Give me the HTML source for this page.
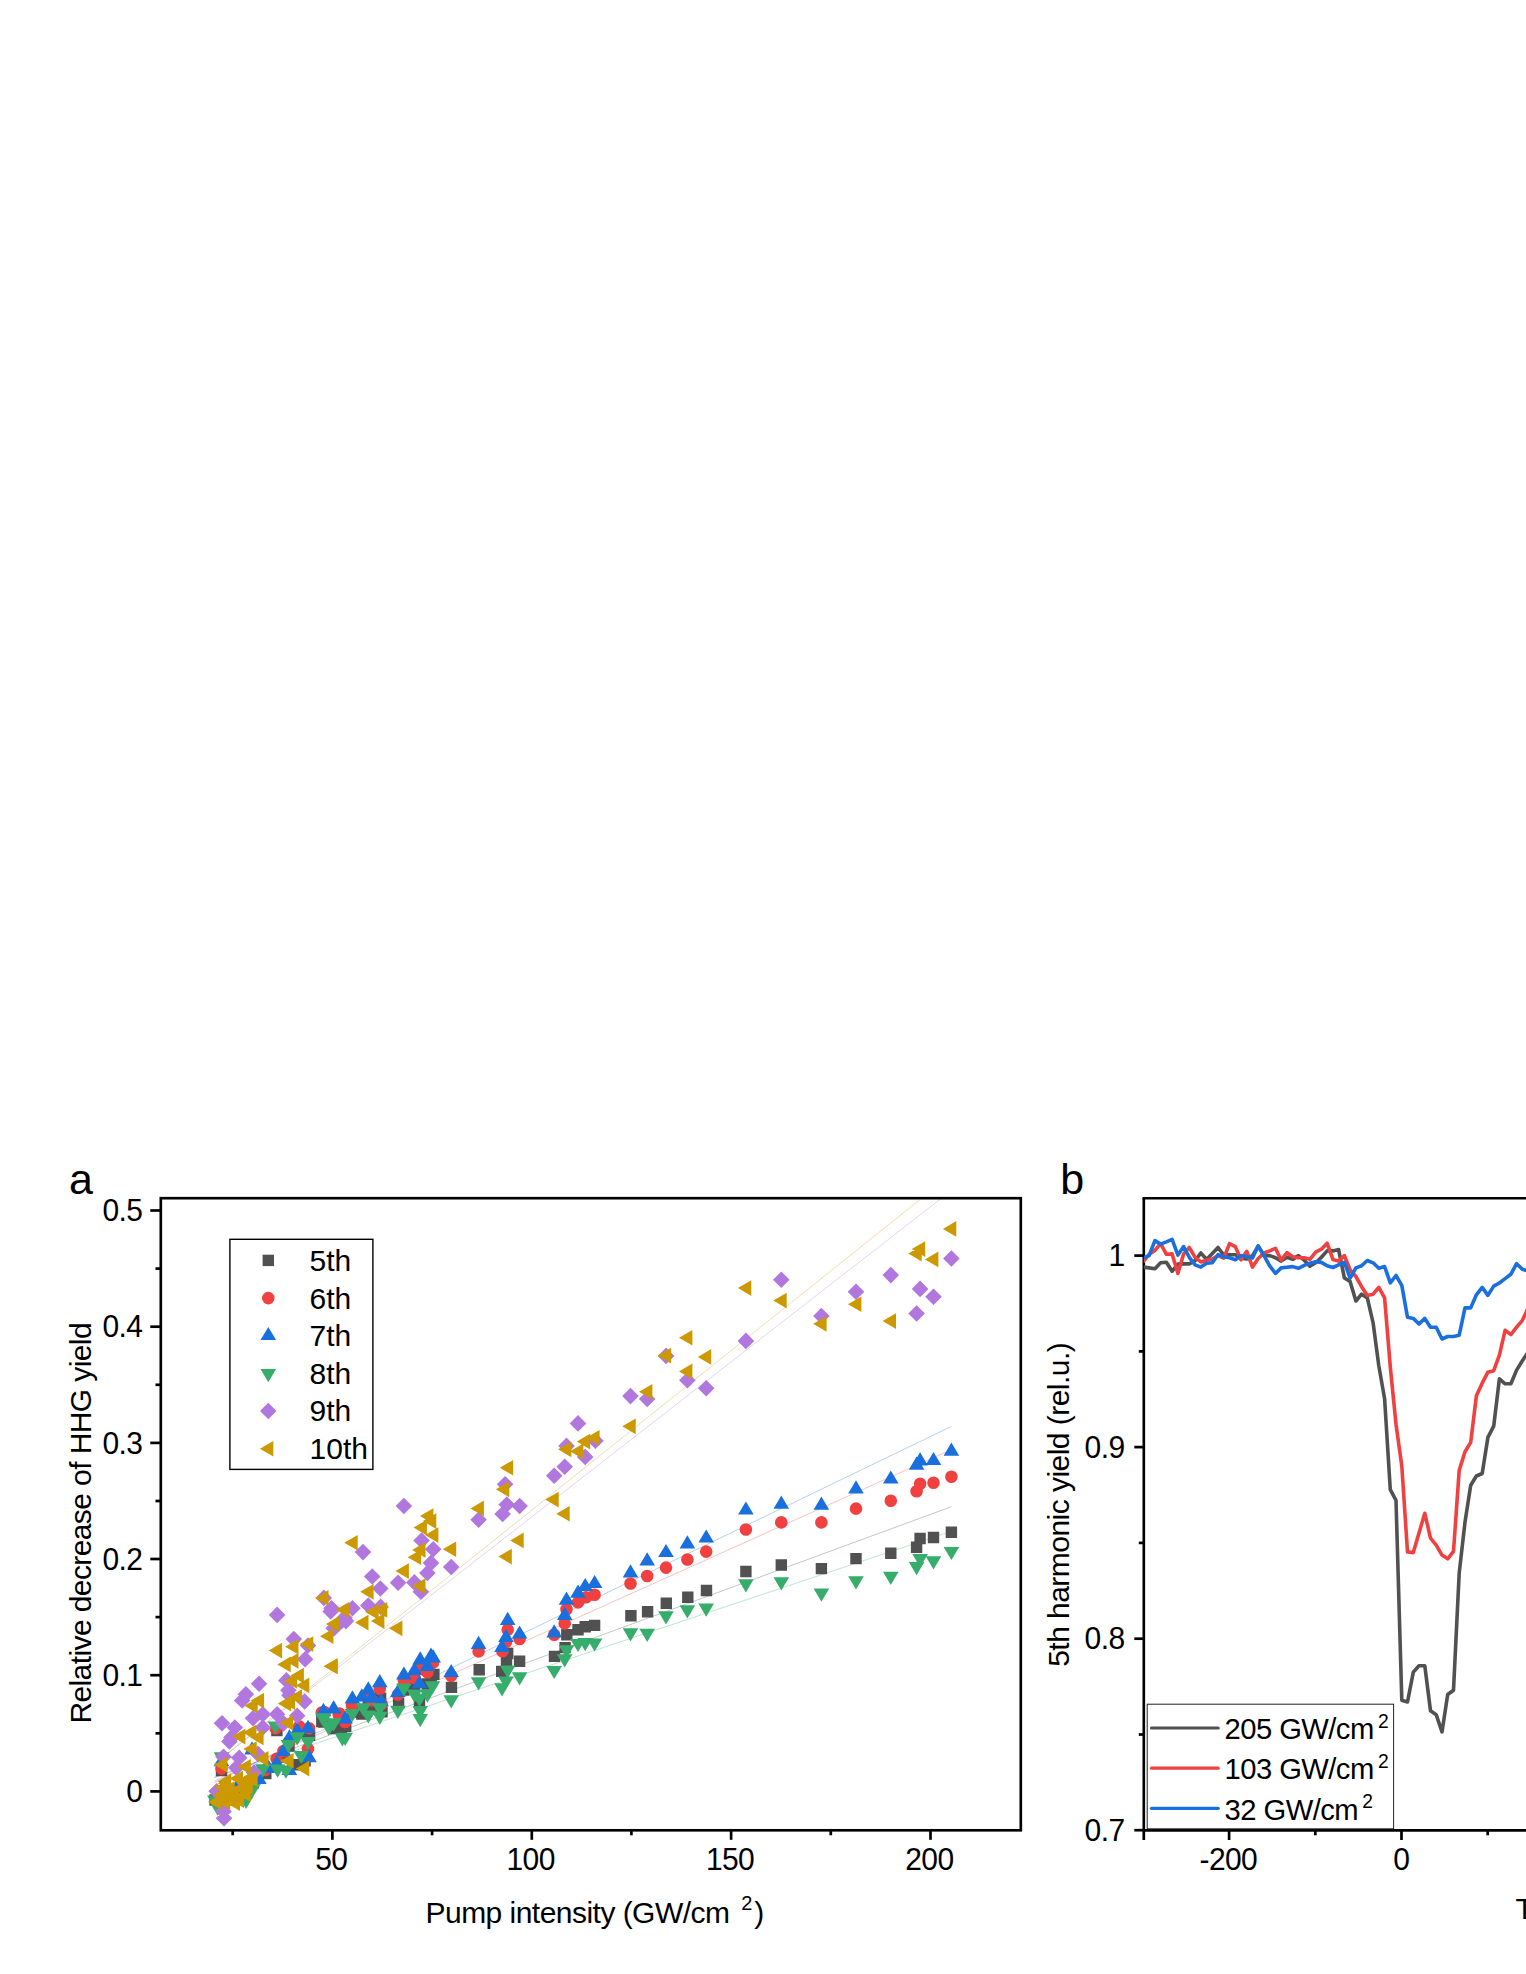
<!DOCTYPE html>
<html lang="en">
<head>
<meta charset="utf-8">
<title>Figure: HHG yield vs pump intensity</title>
<style>
html,body{margin:0;padding:0;background:#fff;}
body{width:1526px;height:1974px;overflow:hidden;}
svg{display:block;}
text{font-family:"Liberation Sans",Arial,Helvetica,sans-serif;fill:#000;}
.t30{font-size:30px;}
.t30x{font-size:30px;}
.t30y{font-size:30px;}
.t28{font-size:29.2px;}
.t43{font-size:43px;}
.t18{font-size:19.3px;}
.t20{font-size:20px;}
</style>
</head>
<body>
<svg width="1526" height="1974" viewBox="0 0 1526 1974">
<rect x="0" y="0" width="1526" height="1974" fill="#fff"/>
<g id="panel-a">
<clipPath id="ca"><rect x="160.8" y="1198.2" width="860.0" height="632.0999999999999"/></clipPath>
<g clip-path="url(#ca)"><line x1="214.5" y1="1777.3" x2="951.4" y2="1506.7" stroke="#515151" stroke-width="0.65" stroke-opacity="0.5"/><line x1="214.5" y1="1780.9" x2="951.4" y2="1449.6" stroke="#F14040" stroke-width="0.65" stroke-opacity="0.5"/><line x1="214.5" y1="1782.4" x2="951.4" y2="1426.4" stroke="#1A6FDF" stroke-width="0.65" stroke-opacity="0.5"/><line x1="214.5" y1="1777.4" x2="951.4" y2="1531.3" stroke="#37AD6B" stroke-width="0.65" stroke-opacity="0.5"/><line x1="214.5" y1="1763.7" x2="951.4" y2="1190.4" stroke="#B177DE" stroke-width="0.65" stroke-opacity="0.5"/><line x1="214.5" y1="1763.9" x2="951.4" y2="1174.4" stroke="#CC9900" stroke-width="0.65" stroke-opacity="0.5"/>
<path fill="#515151" d="M740.2 1565.8h11.4v11.4h-11.4zM775.6 1559.3h11.4v11.4h-11.4zM815.7 1562.9h11.4v11.4h-11.4zM850.3 1552.9h11.4v11.4h-11.4zM885.1 1547.6h11.4v11.4h-11.4zM910.9 1541.5h11.4v11.4h-11.4zM914.4 1532.8h11.4v11.4h-11.4zM927.8 1531.8h11.4v11.4h-11.4zM945.7 1526.5h11.4v11.4h-11.4zM700.8 1584.8h11.4v11.4h-11.4zM682.1 1591.6h11.4v11.4h-11.4zM660.6 1597.6h11.4v11.4h-11.4zM641.9 1606.1h11.4v11.4h-11.4zM625.2 1610h11.4v11.4h-11.4zM588.9 1619.7h11.4v11.4h-11.4zM579.5 1621.1h11.4v11.4h-11.4zM572.3 1624h11.4v11.4h-11.4zM561.1 1629.1h11.4v11.4h-11.4zM559.4 1641.9h11.4v11.4h-11.4zM548.8 1650.7h11.4v11.4h-11.4zM513.9 1655.5h11.4v11.4h-11.4zM502 1647.8h11.4v11.4h-11.4zM500.8 1656.3h11.4v11.4h-11.4zM496 1665.7h11.4v11.4h-11.4zM473.5 1664h11.4v11.4h-11.4zM445.8 1681.7h11.4v11.4h-11.4zM428.2 1668.7h11.4v11.4h-11.4zM425.5 1673.3h11.4v11.4h-11.4zM421.7 1678.3h11.4v11.4h-11.4zM413.8 1696.9h11.4v11.4h-11.4zM408.7 1682.3h11.4v11.4h-11.4zM398.2 1684.3h11.4v11.4h-11.4zM392.9 1697.6h11.4v11.4h-11.4zM374.9 1692.5h11.4v11.4h-11.4zM356.1 1708.4h11.4v11.4h-11.4zM376.3 1706.2h11.4v11.4h-11.4zM362.6 1698.3h11.4v11.4h-11.4zM366.2 1703.3h11.4v11.4h-11.4zM346.7 1706.3h11.4v11.4h-11.4zM340 1720.6h11.4v11.4h-11.4zM328.7 1722.8h11.4v11.4h-11.4zM317.9 1716.3h11.4v11.4h-11.4zM271.2 1724.9h11.4v11.4h-11.4zM303.8 1729.5h11.4v11.4h-11.4zM299.4 1755.1h11.4v11.4h-11.4zM260.1 1767.9h11.4v11.4h-11.4zM288.6 1759h11.4v11.4h-11.4zM316.1 1715.8h11.4v11.4h-11.4zM335.8 1721.7h11.4v11.4h-11.4zM215.8 1764.9h11.4v11.4h-11.4zM277.8 1751.3h11.4v11.4h-11.4zM283.3 1740.3h11.4v11.4h-11.4zM293.3 1727.3h11.4v11.4h-11.4zM247.3 1777.3h11.4v11.4h-11.4zM240.3 1784.3h11.4v11.4h-11.4zM230.3 1786.3h11.4v11.4h-11.4zM222.3 1792.3h11.4v11.4h-11.4zM209.3 1794.3h11.4v11.4h-11.4z"/>
<path fill="#F14040" d="M739.6 1529.5a6.3 6.3 0 1 0 12.6 0a6.3 6.3 0 1 0 -12.6 0zM775 1522.4a6.3 6.3 0 1 0 12.6 0a6.3 6.3 0 1 0 -12.6 0zM815.1 1522.4a6.3 6.3 0 1 0 12.6 0a6.3 6.3 0 1 0 -12.6 0zM849.7 1508.6a6.3 6.3 0 1 0 12.6 0a6.3 6.3 0 1 0 -12.6 0zM884.5 1500.8a6.3 6.3 0 1 0 12.6 0a6.3 6.3 0 1 0 -12.6 0zM910.3 1491.3a6.3 6.3 0 1 0 12.6 0a6.3 6.3 0 1 0 -12.6 0zM913.8 1483.7a6.3 6.3 0 1 0 12.6 0a6.3 6.3 0 1 0 -12.6 0zM927.2 1482.7a6.3 6.3 0 1 0 12.6 0a6.3 6.3 0 1 0 -12.6 0zM945.1 1476.8a6.3 6.3 0 1 0 12.6 0a6.3 6.3 0 1 0 -12.6 0zM699.9 1551.6a6.3 6.3 0 1 0 12.6 0a6.3 6.3 0 1 0 -12.6 0zM681.1 1559.5a6.3 6.3 0 1 0 12.6 0a6.3 6.3 0 1 0 -12.6 0zM659.7 1567.6a6.3 6.3 0 1 0 12.6 0a6.3 6.3 0 1 0 -12.6 0zM640.9 1576a6.3 6.3 0 1 0 12.6 0a6.3 6.3 0 1 0 -12.6 0zM624.2 1583.5a6.3 6.3 0 1 0 12.6 0a6.3 6.3 0 1 0 -12.6 0zM588.3 1594.7a6.3 6.3 0 1 0 12.6 0a6.3 6.3 0 1 0 -12.6 0zM579.7 1597.3a6.3 6.3 0 1 0 12.6 0a6.3 6.3 0 1 0 -12.6 0zM571.7 1602.4a6.3 6.3 0 1 0 12.6 0a6.3 6.3 0 1 0 -12.6 0zM560.2 1609.2a6.3 6.3 0 1 0 12.6 0a6.3 6.3 0 1 0 -12.6 0zM558.4 1623.4a6.3 6.3 0 1 0 12.6 0a6.3 6.3 0 1 0 -12.6 0zM547.9 1634.8a6.3 6.3 0 1 0 12.6 0a6.3 6.3 0 1 0 -12.6 0zM513.3 1639a6.3 6.3 0 1 0 12.6 0a6.3 6.3 0 1 0 -12.6 0zM501.4 1629.7a6.3 6.3 0 1 0 12.6 0a6.3 6.3 0 1 0 -12.6 0zM499.7 1642a6.3 6.3 0 1 0 12.6 0a6.3 6.3 0 1 0 -12.6 0zM496.1 1651.2a6.3 6.3 0 1 0 12.6 0a6.3 6.3 0 1 0 -12.6 0zM472.3 1651.4a6.3 6.3 0 1 0 12.6 0a6.3 6.3 0 1 0 -12.6 0zM444.9 1675.9a6.3 6.3 0 1 0 12.6 0a6.3 6.3 0 1 0 -12.6 0zM426.9 1662.2a6.3 6.3 0 1 0 12.6 0a6.3 6.3 0 1 0 -12.6 0zM424.7 1664a6.3 6.3 0 1 0 12.6 0a6.3 6.3 0 1 0 -12.6 0zM421.1 1672.3a6.3 6.3 0 1 0 12.6 0a6.3 6.3 0 1 0 -12.6 0zM413.9 1668a6.3 6.3 0 1 0 12.6 0a6.3 6.3 0 1 0 -12.6 0zM408.1 1678a6.3 6.3 0 1 0 12.6 0a6.3 6.3 0 1 0 -12.6 0zM397.6 1681a6.3 6.3 0 1 0 12.6 0a6.3 6.3 0 1 0 -12.6 0zM391.6 1694.6a6.3 6.3 0 1 0 12.6 0a6.3 6.3 0 1 0 -12.6 0zM373.5 1688.9a6.3 6.3 0 1 0 12.6 0a6.3 6.3 0 1 0 -12.6 0zM375.2 1704a6.3 6.3 0 1 0 12.6 0a6.3 6.3 0 1 0 -12.6 0zM365.6 1700.4a6.3 6.3 0 1 0 12.6 0a6.3 6.3 0 1 0 -12.6 0zM362 1696a6.3 6.3 0 1 0 12.6 0a6.3 6.3 0 1 0 -12.6 0zM345.7 1705.4a6.3 6.3 0 1 0 12.6 0a6.3 6.3 0 1 0 -12.6 0zM332.4 1714.8a6.3 6.3 0 1 0 12.6 0a6.3 6.3 0 1 0 -12.6 0zM338.9 1722a6.3 6.3 0 1 0 12.6 0a6.3 6.3 0 1 0 -12.6 0zM318 1712a6.3 6.3 0 1 0 12.6 0a6.3 6.3 0 1 0 -12.6 0zM269.3 1728.3a6.3 6.3 0 1 0 12.6 0a6.3 6.3 0 1 0 -12.6 0zM302.7 1728.3a6.3 6.3 0 1 0 12.6 0a6.3 6.3 0 1 0 -12.6 0zM292.9 1726.4a6.3 6.3 0 1 0 12.6 0a6.3 6.3 0 1 0 -12.6 0zM301.7 1749a6.3 6.3 0 1 0 12.6 0a6.3 6.3 0 1 0 -12.6 0zM270.3 1758.8a6.3 6.3 0 1 0 12.6 0a6.3 6.3 0 1 0 -12.6 0zM277.2 1751a6.3 6.3 0 1 0 12.6 0a6.3 6.3 0 1 0 -12.6 0zM315.5 1712.5a6.3 6.3 0 1 0 12.6 0a6.3 6.3 0 1 0 -12.6 0zM333.2 1713.6a6.3 6.3 0 1 0 12.6 0a6.3 6.3 0 1 0 -12.6 0zM215.2 1768.6a6.3 6.3 0 1 0 12.6 0a6.3 6.3 0 1 0 -12.6 0zM282.7 1742a6.3 6.3 0 1 0 12.6 0a6.3 6.3 0 1 0 -12.6 0zM258.7 1770a6.3 6.3 0 1 0 12.6 0a6.3 6.3 0 1 0 -12.6 0zM246.7 1780a6.3 6.3 0 1 0 12.6 0a6.3 6.3 0 1 0 -12.6 0zM239.7 1788a6.3 6.3 0 1 0 12.6 0a6.3 6.3 0 1 0 -12.6 0zM229.7 1790a6.3 6.3 0 1 0 12.6 0a6.3 6.3 0 1 0 -12.6 0z"/>
<path fill="#1A6FDF" d="M745.9 1501.4l7.8 13.2h-15.6zM781.3 1495.5l7.8 13.2h-15.6zM821.4 1496.5l7.8 13.2h-15.6zM856 1480.2l7.8 13.2h-15.6zM890.8 1470.4l7.8 13.2h-15.6zM916.6 1456.6l7.8 13.2h-15.6zM920.1 1452.3l7.8 13.2h-15.6zM933.5 1451.9l7.8 13.2h-15.6zM951.4 1442.5l7.8 13.2h-15.6zM706.2 1529.4l7.8 13.2h-15.6zM687.4 1535.3l7.8 13.2h-15.6zM666 1543.9l7.8 13.2h-15.6zM647.2 1552.3l7.8 13.2h-15.6zM630.5 1564.3l7.8 13.2h-15.6zM594.6 1574.9l7.8 13.2h-15.6zM585.2 1577.9l7.8 13.2h-15.6zM578 1584.5l7.8 13.2h-15.6zM566.5 1591.5l7.8 13.2h-15.6zM564.7 1606.7l7.8 13.2h-15.6zM554.2 1624.2l7.8 13.2h-15.6zM519.6 1625.4l7.8 13.2h-15.6zM507.7 1611.7l7.8 13.2h-15.6zM506 1628.7l7.8 13.2h-15.6zM502 1638.8l7.8 13.2h-15.6zM478.6 1635.8l7.8 13.2h-15.6zM451.2 1663.9l7.8 13.2h-15.6zM431 1647.6l7.8 13.2h-15.6zM433.2 1649.2l7.8 13.2h-15.6zM420.2 1651.2l7.8 13.2h-15.6zM427.4 1657.7l7.8 13.2h-15.6zM414.4 1662.1l7.8 13.2h-15.6zM403.9 1666.4l7.8 13.2h-15.6zM419.5 1675l7.8 13.2h-15.6zM379.8 1674l7.8 13.2h-15.6zM368.3 1681.2l7.8 13.2h-15.6zM397.9 1683.7l7.8 13.2h-15.6zM352.4 1690.2l7.8 13.2h-15.6zM371.9 1689.2l7.8 13.2h-15.6zM381 1693.1l7.8 13.2h-15.6zM333.7 1700.3l7.8 13.2h-15.6zM323.6 1703.1l7.8 13.2h-15.6zM345.2 1710.4l7.8 13.2h-15.6zM361.8 1688.2l7.8 13.2h-15.6zM308 1719.8l7.8 13.2h-15.6zM297.2 1722.3l7.8 13.2h-15.6zM289.4 1729.2l7.8 13.2h-15.6zM276.6 1754.7l7.8 13.2h-15.6zM283.5 1742.9l7.8 13.2h-15.6zM309 1749l7.8 13.2h-15.6zM289.4 1761.8l7.8 13.2h-15.6zM268.7 1759.8l7.8 13.2h-15.6zM257.9 1769.7l7.8 13.2h-15.6zM252 1741.2l7.8 13.2h-15.6zM221.5 1753l7.8 13.2h-15.6zM323.3 1703.1l7.8 13.2h-15.6zM333.6 1700.2l7.8 13.2h-15.6zM258.9 1770.7l7.8 13.2h-15.6zM246 1777.2l7.8 13.2h-15.6zM236 1780.2l7.8 13.2h-15.6zM229 1787.2l7.8 13.2h-15.6z"/>
<path fill="#37AD6B" d="M745.9 1592.5l7.8 -13.2h-15.6zM781.3 1590.5l7.8 -13.2h-15.6zM821.4 1601.7l7.8 -13.2h-15.6zM856 1589.4l7.8 -13.2h-15.6zM890.8 1585l7.8 -13.2h-15.6zM916.6 1575.2l7.8 -13.2h-15.6zM920.1 1567.3l7.8 -13.2h-15.6zM933.5 1569.5l7.8 -13.2h-15.6zM951.4 1560.1l7.8 -13.2h-15.6zM706.2 1616.7l7.8 -13.2h-15.6zM687.4 1618.4l7.8 -13.2h-15.6zM666 1624.5l7.8 -13.2h-15.6zM647.2 1641.9l7.8 -13.2h-15.6zM630.5 1641.4l7.8 -13.2h-15.6zM594.6 1651.6l7.8 -13.2h-15.6zM585.2 1651.3l7.8 -13.2h-15.6zM578 1652.1l7.8 -13.2h-15.6zM566.5 1658.5l7.8 -13.2h-15.6zM564.7 1667.5l7.8 -13.2h-15.6zM554.2 1679.1l7.8 -13.2h-15.6zM519.6 1685.4l7.8 -13.2h-15.6zM507.7 1678.6l7.8 -13.2h-15.6zM506 1689.6l7.8 -13.2h-15.6zM502 1696.4l7.8 -13.2h-15.6zM478.6 1690.4l7.8 -13.2h-15.6zM451.2 1708.4l7.8 -13.2h-15.6zM432.5 1694.5l7.8 -13.2h-15.6zM427.4 1702.7l7.8 -13.2h-15.6zM420.2 1727.2l7.8 -13.2h-15.6zM420.2 1719.3l7.8 -13.2h-15.6zM419.5 1707l7.8 -13.2h-15.6zM403.9 1696.6l7.8 -13.2h-15.6zM414.4 1702.7l7.8 -13.2h-15.6zM397.9 1719l7.8 -13.2h-15.6zM379.8 1725l7.8 -13.2h-15.6zM368.3 1723.6l7.8 -13.2h-15.6zM379.8 1716.4l7.8 -13.2h-15.6zM363.3 1716.4l7.8 -13.2h-15.6zM352.4 1722.1l7.8 -13.2h-15.6zM345.2 1745.9l7.8 -13.2h-15.6zM323.6 1726.5l7.8 -13.2h-15.6zM333.7 1731.5l7.8 -13.2h-15.6zM328.7 1735.8l7.8 -13.2h-15.6zM275.4 1734.6l7.8 -13.2h-15.6zM297.2 1745.4l7.8 -13.2h-15.6zM288.4 1753.3l7.8 -13.2h-15.6zM308 1750.3l7.8 -13.2h-15.6zM301.2 1764.1l7.8 -13.2h-15.6zM277.6 1777.8l7.8 -13.2h-15.6zM285.9 1778.8l7.8 -13.2h-15.6zM262.8 1777.4l7.8 -13.2h-15.6zM342.4 1746.4l7.8 -13.2h-15.6zM221.5 1765.5l7.8 -13.2h-15.6zM214.8 1808.8l7.8 -13.2h-15.6zM217.6 1815.8l7.8 -13.2h-15.6zM234.3 1799.1l7.8 -13.2h-15.6zM246.1 1808.9l7.8 -13.2h-15.6zM253 1797.1l7.8 -13.2h-15.6zM323 1726.7l7.8 -13.2h-15.6zM333.6 1731.6l7.8 -13.2h-15.6zM329.7 1734.6l7.8 -13.2h-15.6z"/>
<path fill="#B177DE" d="M745.9 1332.6l8.3 8.3l-8.3 8.3l-8.3 -8.3zM781.3 1271.5l8.3 8.3l-8.3 8.3l-8.3 -8.3zM821.4 1307.7l8.3 8.3l-8.3 8.3l-8.3 -8.3zM856 1283.5l8.3 8.3l-8.3 8.3l-8.3 -8.3zM890.8 1266.8l8.3 8.3l-8.3 8.3l-8.3 -8.3zM916.6 1305.2l8.3 8.3l-8.3 8.3l-8.3 -8.3zM920.1 1280.6l8.3 8.3l-8.3 8.3l-8.3 -8.3zM933.5 1288.4l8.3 8.3l-8.3 8.3l-8.3 -8.3zM951.4 1250.2l8.3 8.3l-8.3 8.3l-8.3 -8.3zM505.1 1475.9l8.3 8.3l-8.3 8.3l-8.3 -8.3zM506.8 1496.2l8.3 8.3l-8.3 8.3l-8.3 -8.3zM502.6 1505.7l8.3 8.3l-8.3 8.3l-8.3 -8.3zM519.6 1497.7l8.3 8.3l-8.3 8.3l-8.3 -8.3zM554.2 1467.4l8.3 8.3l-8.3 8.3l-8.3 -8.3zM564.7 1458.4l8.3 8.3l-8.3 8.3l-8.3 -8.3zM566.5 1437.6l8.3 8.3l-8.3 8.3l-8.3 -8.3zM578 1415.1l8.3 8.3l-8.3 8.3l-8.3 -8.3zM585.2 1448.6l8.3 8.3l-8.3 8.3l-8.3 -8.3zM595.4 1432.5l8.3 8.3l-8.3 8.3l-8.3 -8.3zM630.5 1387.8l8.3 8.3l-8.3 8.3l-8.3 -8.3zM647.2 1390.7l8.3 8.3l-8.3 8.3l-8.3 -8.3zM666.1 1347.6l8.3 8.3l-8.3 8.3l-8.3 -8.3zM687.4 1372l8.3 8.3l-8.3 8.3l-8.3 -8.3zM706.2 1380l8.3 8.3l-8.3 8.3l-8.3 -8.3zM403.9 1497.7l8.3 8.3l-8.3 8.3l-8.3 -8.3zM363 1543.8l8.3 8.3l-8.3 8.3l-8.3 -8.3zM372.2 1568.2l8.3 8.3l-8.3 8.3l-8.3 -8.3zM380.3 1580.2l8.3 8.3l-8.3 8.3l-8.3 -8.3zM398.1 1574.4l8.3 8.3l-8.3 8.3l-8.3 -8.3zM414.4 1574.1l8.3 8.3l-8.3 8.3l-8.3 -8.3zM420.9 1583.5l8.3 8.3l-8.3 8.3l-8.3 -8.3zM427.4 1564.7l8.3 8.3l-8.3 8.3l-8.3 -8.3zM431 1554.6l8.3 8.3l-8.3 8.3l-8.3 -8.3zM433.2 1540.9l8.3 8.3l-8.3 8.3l-8.3 -8.3zM421.6 1532.2l8.3 8.3l-8.3 8.3l-8.3 -8.3zM451.2 1558.7l8.3 8.3l-8.3 8.3l-8.3 -8.3zM478.6 1511.4l8.3 8.3l-8.3 8.3l-8.3 -8.3zM331.5 1600l8.3 8.3l-8.3 8.3l-8.3 -8.3zM352.4 1600l8.3 8.3l-8.3 8.3l-8.3 -8.3zM368.3 1597.2l8.3 8.3l-8.3 8.3l-8.3 -8.3zM380.6 1598.6l8.3 8.3l-8.3 8.3l-8.3 -8.3zM344.5 1609.4l8.3 8.3l-8.3 8.3l-8.3 -8.3zM346 1612.8l8.3 8.3l-8.3 8.3l-8.3 -8.3zM333.7 1620l8.3 8.3l-8.3 8.3l-8.3 -8.3zM277.1 1606.6l8.3 8.3l-8.3 8.3l-8.3 -8.3zM293.8 1630.8l8.3 8.3l-8.3 8.3l-8.3 -8.3zM308 1637.2l8.3 8.3l-8.3 8.3l-8.3 -8.3zM305.1 1651l8.3 8.3l-8.3 8.3l-8.3 -8.3zM330.7 1603.2l8.3 8.3l-8.3 8.3l-8.3 -8.3zM323.8 1589.6l8.3 8.3l-8.3 8.3l-8.3 -8.3zM334.1 1620l8.3 8.3l-8.3 8.3l-8.3 -8.3zM342.4 1612.2l8.3 8.3l-8.3 8.3l-8.3 -8.3zM259.1 1675.4l8.3 8.3l-8.3 8.3l-8.3 -8.3zM245.9 1685.9l8.3 8.3l-8.3 8.3l-8.3 -8.3zM242.2 1692.2l8.3 8.3l-8.3 8.3l-8.3 -8.3zM286.4 1672.1l8.3 8.3l-8.3 8.3l-8.3 -8.3zM288.4 1682l8.3 8.3l-8.3 8.3l-8.3 -8.3zM289.4 1686.9l8.3 8.3l-8.3 8.3l-8.3 -8.3zM304.6 1693.2l8.3 8.3l-8.3 8.3l-8.3 -8.3zM297.2 1707.5l8.3 8.3l-8.3 8.3l-8.3 -8.3zM277.1 1706l8.3 8.3l-8.3 8.3l-8.3 -8.3zM262.8 1706l8.3 8.3l-8.3 8.3l-8.3 -8.3zM253 1710l8.3 8.3l-8.3 8.3l-8.3 -8.3zM222 1714.9l8.3 8.3l-8.3 8.3l-8.3 -8.3zM234.8 1719.2l8.3 8.3l-8.3 8.3l-8.3 -8.3zM262.8 1719.2l8.3 8.3l-8.3 8.3l-8.3 -8.3zM231.4 1729.1l8.3 8.3l-8.3 8.3l-8.3 -8.3zM224 1810l8.3 8.3l-8.3 8.3l-8.3 -8.3zM223.5 1803.1l8.3 8.3l-8.3 8.3l-8.3 -8.3zM229.4 1733.2l8.3 8.3l-8.3 8.3l-8.3 -8.3zM223.5 1748.5l8.3 8.3l-8.3 8.3l-8.3 -8.3zM216.6 1782.9l8.3 8.3l-8.3 8.3l-8.3 -8.3zM236.3 1759.4l8.3 8.3l-8.3 8.3l-8.3 -8.3zM254 1764.2l8.3 8.3l-8.3 8.3l-8.3 -8.3zM246.1 1776.1l8.3 8.3l-8.3 8.3l-8.3 -8.3zM257.9 1745.6l8.3 8.3l-8.3 8.3l-8.3 -8.3zM283.5 1715.1l8.3 8.3l-8.3 8.3l-8.3 -8.3zM239.2 1749.5l8.3 8.3l-8.3 8.3l-8.3 -8.3z"/>
<path fill="#CC9900" d="M737.9 1288.1l13.4 -7.8v15.7zM773.3 1300.6l13.4 -7.8v15.7zM813.2 1323.8l13.4 -7.8v15.7zM848 1304.2l13.4 -7.8v15.7zM882.6 1321.1l13.4 -7.8v15.7zM908.3 1253.5l13.4 -7.8v15.7zM911.8 1249.1l13.4 -7.8v15.7zM925 1259.4l13.4 -7.8v15.7zM942.9 1228.9l13.4 -7.8v15.7zM499.8 1467.7l13.4 -7.8v15.7zM495.9 1489.3l13.4 -7.8v15.7zM545.3 1499.5l13.4 -7.8v15.7zM556.3 1513.7l13.4 -7.8v15.7zM510.3 1540.4l13.4 -7.8v15.7zM498.4 1556.6l13.4 -7.8v15.7zM558 1449.3l13.4 -7.8v15.7zM570 1451.3l13.4 -7.8v15.7zM576.8 1441.6l13.4 -7.8v15.7zM586.2 1437.7l13.4 -7.8v15.7zM622.3 1426.3l13.4 -7.8v15.7zM639 1391.7l13.4 -7.8v15.7zM657.7 1355.6l13.4 -7.8v15.7zM679 1337.7l13.4 -7.8v15.7zM679 1371.4l13.4 -7.8v15.7zM697.8 1356.9l13.4 -7.8v15.7zM470.5 1508.4l13.4 -7.8v15.7zM420 1516.1l13.4 -7.8v15.7zM422.9 1521.1l13.4 -7.8v15.7zM413.5 1527.6l13.4 -7.8v15.7zM425 1535.1l13.4 -7.8v15.7zM344.3 1542.7l13.4 -7.8v15.7zM442.8 1549.2l13.4 -7.8v15.7zM412.1 1549.9l13.4 -7.8v15.7zM407.7 1557.2l13.4 -7.8v15.7zM395.5 1571.1l13.4 -7.8v15.7zM412.1 1586l13.4 -7.8v15.7zM360.2 1591.8l13.4 -7.8v15.7zM365.2 1611.9l13.4 -7.8v15.7zM373.9 1609.8l13.4 -7.8v15.7zM389 1628.3l13.4 -7.8v15.7zM324.5 1666.1l13.4 -7.8v15.7zM355.1 1622.5l13.4 -7.8v15.7zM371 1621.1l13.4 -7.8v15.7zM315.1 1597.9l13.4 -7.8v15.7zM335.7 1609.7l13.4 -7.8v15.7zM325.9 1623.9l13.4 -7.8v15.7zM320 1636.2l13.4 -7.8v15.7zM323.5 1666.2l13.4 -7.8v15.7zM268.7 1650.6l13.4 -7.8v15.7zM285.1 1646.7l13.4 -7.8v15.7zM299.9 1644.1l13.4 -7.8v15.7zM285.1 1660.8l13.4 -7.8v15.7zM277.3 1664.4l13.4 -7.8v15.7zM290.5 1675.5l13.4 -7.8v15.7zM283.7 1680.9l13.4 -7.8v15.7zM295.9 1685.4l13.4 -7.8v15.7zM288.6 1697.1l13.4 -7.8v15.7zM281.7 1702.1l13.4 -7.8v15.7zM277.8 1703.5l13.4 -7.8v15.7zM250.7 1700.6l13.4 -7.8v15.7zM244.3 1705.7l13.4 -7.8v15.7zM279.7 1722.7l13.4 -7.8v15.7zM242.9 1732.5l13.4 -7.8v15.7zM250.2 1737.4l13.4 -7.8v15.7zM232 1736.5l13.4 -7.8v15.7zM243.3 1749l13.4 -7.8v15.7zM255.1 1758.8l13.4 -7.8v15.7zM213.9 1764.7l13.4 -7.8v15.7zM280.2 1760.8l13.4 -7.8v15.7zM295.9 1768.6l13.4 -7.8v15.7zM237.4 1766.7l13.4 -7.8v15.7zM244.3 1778.5l13.4 -7.8v15.7zM229.6 1778.5l13.4 -7.8v15.7zM217.8 1783.4l13.4 -7.8v15.7zM225.7 1793.2l13.4 -7.8v15.7zM237.4 1794.2l13.4 -7.8v15.7zM208 1802l13.4 -7.8v15.7zM216.8 1801l13.4 -7.8v15.7zM226.6 1803l13.4 -7.8v15.7zM221.3 1790l13.4 -7.8v15.7zM217.8 1781.4l13.4 -7.8v15.7zM229.6 1778.5l13.4 -7.8v15.7zM244.3 1779l13.4 -7.8v15.7zM220.7 1789.3l13.4 -7.8v15.7zM232.5 1788.3l13.4 -7.8v15.7zM212.9 1794.7l13.4 -7.8v15.7zM225.7 1796.2l13.4 -7.8v15.7zM237.4 1794.2l13.4 -7.8v15.7zM208 1802.1l13.4 -7.8v15.7zM216.8 1802.1l13.4 -7.8v15.7zM226.6 1803l13.4 -7.8v15.7zM221.7 1796.7l13.4 -7.8v15.7zM230.6 1800.1l13.4 -7.8v15.7zM239.4 1786.3l13.4 -7.8v15.7zM213.9 1787.3l13.4 -7.8v15.7zM235.5 1781.4l13.4 -7.8v15.7z"/>
</g>
<rect x="160.8" y="1198.2" width="860" height="632.1" fill="none" stroke="#000" stroke-width="2.65"/>
<line x1="150.3" y1="1791.4" x2="160.8" y2="1791.4" stroke="#000" stroke-width="2.7"/>
<text transform="translate(142.4,1802.2) scale(1,1.04)" class="t30" text-anchor="end" letter-spacing="-0.6">0</text>
<line x1="150.3" y1="1675.2" x2="160.8" y2="1675.2" stroke="#000" stroke-width="2.7"/>
<text transform="translate(142.4,1686) scale(1,1.04)" class="t30" text-anchor="end" letter-spacing="-0.6">0.1</text>
<line x1="150.3" y1="1559" x2="160.8" y2="1559" stroke="#000" stroke-width="2.7"/>
<text transform="translate(142.4,1569.8) scale(1,1.04)" class="t30" text-anchor="end" letter-spacing="-0.6">0.2</text>
<line x1="150.3" y1="1442.9" x2="160.8" y2="1442.9" stroke="#000" stroke-width="2.7"/>
<text transform="translate(142.4,1453.6) scale(1,1.04)" class="t30" text-anchor="end" letter-spacing="-0.6">0.3</text>
<line x1="150.3" y1="1326.7" x2="160.8" y2="1326.7" stroke="#000" stroke-width="2.7"/>
<text transform="translate(142.4,1337.4) scale(1,1.04)" class="t30" text-anchor="end" letter-spacing="-0.6">0.4</text>
<line x1="150.3" y1="1210.5" x2="160.8" y2="1210.5" stroke="#000" stroke-width="2.7"/>
<text transform="translate(142.4,1221.2) scale(1,1.04)" class="t30" text-anchor="end" letter-spacing="-0.6">0.5</text>
<line x1="155.5" y1="1733.3" x2="160.8" y2="1733.3" stroke="#000" stroke-width="2.7"/>
<line x1="155.5" y1="1617.1" x2="160.8" y2="1617.1" stroke="#000" stroke-width="2.7"/>
<line x1="155.5" y1="1501" x2="160.8" y2="1501" stroke="#000" stroke-width="2.7"/>
<line x1="155.5" y1="1384.8" x2="160.8" y2="1384.8" stroke="#000" stroke-width="2.7"/>
<line x1="155.5" y1="1268.6" x2="160.8" y2="1268.6" stroke="#000" stroke-width="2.7"/>
<line x1="332.4" y1="1830.3" x2="332.4" y2="1839.8" stroke="#000" stroke-width="2.7"/>
<text transform="translate(331.3,1869.7) scale(1,1.04)" class="t30" text-anchor="middle" letter-spacing="-0.6">50</text>
<line x1="531.8" y1="1830.3" x2="531.8" y2="1839.8" stroke="#000" stroke-width="2.7"/>
<text transform="translate(530.6,1869.7) scale(1,1.04)" class="t30" text-anchor="middle" letter-spacing="-0.6">100</text>
<line x1="731.1" y1="1830.3" x2="731.1" y2="1839.8" stroke="#000" stroke-width="2.7"/>
<text transform="translate(730,1869.7) scale(1,1.04)" class="t30" text-anchor="middle" letter-spacing="-0.6">150</text>
<line x1="930.5" y1="1830.3" x2="930.5" y2="1839.8" stroke="#000" stroke-width="2.7"/>
<text transform="translate(929.4,1869.7) scale(1,1.04)" class="t30" text-anchor="middle" letter-spacing="-0.6">200</text>
<line x1="232.7" y1="1830.3" x2="232.7" y2="1835.3" stroke="#000" stroke-width="2.7"/>
<line x1="432.1" y1="1830.3" x2="432.1" y2="1835.3" stroke="#000" stroke-width="2.7"/>
<line x1="631.4" y1="1830.3" x2="631.4" y2="1835.3" stroke="#000" stroke-width="2.7"/>
<line x1="830.8" y1="1830.3" x2="830.8" y2="1835.3" stroke="#000" stroke-width="2.7"/>
<text x="69" y="1194.3" class="t43">a</text>
<text transform="translate(91,1723.6) rotate(-90)" class="t30" textLength="401.2">Relative decrease of HHG yield</text>
<text x="425.5" y="1922.8" class="t30x" textLength="304.5">Pump intensity (GW/cm</text>
<text x="741.3" y="1910.4" class="t20">2</text>
<text x="754.3" y="1922.8" class="t30x">)</text>
<rect x="229.9" y="1239.3" width="143" height="230.1" fill="#fff" stroke="#000" stroke-width="1.4"/>
<path fill="#515151" d="M262.6 1254.7h11.4v11.4h-11.4z"/>
<path fill="#F14040" d="M262 1298.1a6.3 6.3 0 1 0 12.6 0a6.3 6.3 0 1 0 -12.6 0z"/>
<path fill="#1A6FDF" d="M268.3 1326.9l7.8 13.2h-15.6z"/>
<path fill="#37AD6B" d="M268.3 1382.2l7.8 -13.2h-15.6z"/>
<path fill="#B177DE" d="M268.3 1402.7l8.3 8.3l-8.3 8.3l-8.3 -8.3z"/>
<path fill="#CC9900" d="M259.9 1448.7l13.4 -7.8v15.7z"/>
<text transform="translate(309.6,1270.8)" class="t30">5th</text>
<text transform="translate(309.6,1308.5)" class="t30">6th</text>
<text transform="translate(309.6,1346.1)" class="t30">7th</text>
<text transform="translate(309.6,1383.8)" class="t30">8th</text>
<text transform="translate(309.6,1421.4)" class="t30">9th</text>
<text transform="translate(309.6,1459.1)" class="t30">10th</text>
</g>
<g id="panel-b">
<clipPath id="cb"><rect x="1143.8" y="1198.2" width="400" height="632.0999999999999"/></clipPath>
<line x1="1142.5" y1="1198.2" x2="1530" y2="1198.2" stroke="#000" stroke-width="2.65"/>
<line x1="1142.5" y1="1830.3" x2="1530" y2="1830.3" stroke="#000" stroke-width="2.65"/>
<line x1="1143.8" y1="1198.2" x2="1143.8" y2="1830.3" stroke="#000" stroke-width="2.65"/>
<g clip-path="url(#cb)">
<polyline fill="none" stroke="#515151" stroke-width="3.6" stroke-linejoin="round" stroke-linecap="round" points="1143.4,1267.1 1149.1,1267.9 1154.9,1268.8 1160.6,1262.8 1166.4,1262.2 1172.1,1271.3 1177.9,1264.1 1183.6,1263.9 1189.3,1263.9 1195.1,1260.7 1200.8,1253 1206.6,1259.4 1212.3,1253.4 1218,1247.5 1223.8,1255.1 1229.5,1254.7 1235.3,1254.7 1241,1258.1 1246.8,1259 1252.5,1255.6 1258.2,1246.2 1264,1255.6 1269.7,1255.6 1275.5,1257.7 1281.2,1261.1 1287,1257.3 1292.7,1259.4 1298.4,1255.6 1304.2,1260.2 1309.9,1266.2 1315.7,1262.8 1321.4,1257.3 1327.1,1250.9 1332.9,1250.9 1338.6,1249.6 1344.4,1278 1350.1,1281.4 1355.9,1301 1361.6,1294.2 1367.3,1297.9 1373.1,1322.8 1378.8,1365.8 1384.6,1398.7 1390.3,1489.7 1396,1500.3 1401.8,1700.2 1407.5,1702 1413.3,1672.1 1419,1665.7 1424.8,1665.7 1430.5,1710.7 1436.2,1714.7 1442,1731.9 1447.7,1694.5 1453.5,1690.2 1459.2,1573.1 1465,1522.1 1470.7,1485.3 1476.4,1476 1482.2,1473.5 1487.9,1437.4 1493.7,1426.2 1499.4,1378.9 1505.1,1383.8 1510.9,1383.8 1516.6,1370.1 1522.4,1360.8 1528.1,1352"/>
<polyline fill="none" stroke="#F14040" stroke-width="3.6" stroke-linejoin="round" stroke-linecap="round" points="1143.4,1261.5 1149.1,1254.3 1154.9,1250.4 1160.6,1243.6 1166.4,1254.3 1172.1,1253.9 1177.9,1273.4 1183.6,1253.9 1189.3,1247.5 1195.1,1257.3 1200.8,1261.9 1206.6,1260.2 1212.3,1259 1218,1255.6 1223.8,1258.1 1229.5,1243.6 1235.3,1246.6 1241,1259.8 1246.8,1251.3 1252.5,1267.1 1258.2,1258.5 1264,1253 1269.7,1250.9 1275.5,1248.3 1281.2,1260.2 1287,1252.6 1292.7,1256.8 1298.4,1257.7 1304.2,1257.7 1309.9,1259.4 1315.7,1252.2 1321.4,1249.2 1327.1,1243.2 1332.9,1259.4 1338.6,1261.1 1344.4,1255.6 1350.1,1270 1355.9,1276.5 1361.6,1286.7 1367.3,1295.4 1373.1,1294.2 1378.8,1287.3 1384.6,1297.9 1390.3,1367 1396,1424.3 1401.8,1466 1407.5,1551.9 1413.3,1552.6 1419,1533 1424.8,1513.3 1430.5,1538.2 1436.2,1545.1 1442,1555.1 1447.7,1558.8 1453.5,1551.3 1459.2,1470.4 1465,1451.7 1470.7,1442.4 1476.4,1395.7 1482.2,1383.2 1487.9,1372.2 1493.7,1370.7 1499.4,1355.2 1505.1,1330.3 1510.9,1334.6 1516.6,1327.2 1522.4,1320.3 1528.1,1307.9"/>
<polyline fill="none" stroke="#1A6FDF" stroke-width="3.6" stroke-linejoin="round" stroke-linecap="round" points="1143.4,1257.7 1149.1,1255.6 1154.9,1240.6 1160.6,1244.1 1166.4,1241.9 1172.1,1239.4 1177.9,1255.1 1183.6,1246.6 1189.3,1257.3 1195.1,1264.9 1200.8,1267.1 1206.6,1263.2 1212.3,1262.8 1218,1254.7 1223.8,1256.8 1229.5,1257.7 1235.3,1259.8 1241,1255.6 1246.8,1256.8 1252.5,1258.1 1258.2,1245.8 1264,1255.6 1269.7,1265.8 1275.5,1273.4 1281.2,1267.9 1287,1267.2 1292.7,1266.6 1298.4,1268.3 1304.2,1265.4 1309.9,1263.2 1315.7,1261.7 1321.4,1262.4 1327.1,1265.8 1332.9,1267.5 1338.6,1264.9 1344.4,1262.4 1350.1,1278.1 1355.9,1267.9 1361.6,1265.8 1367.3,1260.5 1373.1,1262.8 1378.8,1268.3 1384.6,1266.6 1390.3,1282.8 1396,1275.5 1401.8,1285.4 1407.5,1317.2 1413.3,1318.4 1419,1324 1424.8,1318.4 1430.5,1327.2 1436.2,1327.2 1442,1339 1447.7,1336.5 1453.5,1336.5 1459.2,1335.2 1465,1307.9 1470.7,1307.9 1476.4,1294.8 1482.2,1287.3 1487.9,1295.4 1493.7,1286.1 1499.4,1283 1505.1,1278.6 1510.9,1274.2 1516.6,1263.7 1522.4,1269.3 1528.1,1271.1"/>
</g>
<line x1="1134.3" y1="1255.6" x2="1143.8" y2="1255.6" stroke="#000" stroke-width="2.7"/>
<text transform="translate(1124.5,1266.3) scale(1,1.04)" class="t30" text-anchor="end" letter-spacing="-0.6">1</text>
<line x1="1134.3" y1="1447.1" x2="1143.8" y2="1447.1" stroke="#000" stroke-width="2.7"/>
<text transform="translate(1124.5,1457.9) scale(1,1.04)" class="t30" text-anchor="end" letter-spacing="-0.6">0.9</text>
<line x1="1134.3" y1="1638.7" x2="1143.8" y2="1638.7" stroke="#000" stroke-width="2.7"/>
<text transform="translate(1124.5,1649.4) scale(1,1.04)" class="t30" text-anchor="end" letter-spacing="-0.6">0.8</text>
<line x1="1134.3" y1="1830.2" x2="1143.8" y2="1830.2" stroke="#000" stroke-width="2.7"/>
<text transform="translate(1124.5,1841) scale(1,1.04)" class="t30" text-anchor="end" letter-spacing="-0.6">0.7</text>
<line x1="1138.8" y1="1351.4" x2="1143.8" y2="1351.4" stroke="#000" stroke-width="2.7"/>
<line x1="1138.8" y1="1542.9" x2="1143.8" y2="1542.9" stroke="#000" stroke-width="2.7"/>
<line x1="1138.8" y1="1734.5" x2="1143.8" y2="1734.5" stroke="#000" stroke-width="2.7"/>
<line x1="1143.8" y1="1830.3" x2="1143.8" y2="1840" stroke="#000" stroke-width="2.7"/>
<line x1="1229.1" y1="1830.3" x2="1229.1" y2="1840" stroke="#000" stroke-width="2.7"/>
<text transform="translate(1228.3,1869.7) scale(1,1.04)" class="t30" text-anchor="middle" letter-spacing="-0.6">-200</text>
<line x1="1401.5" y1="1830.3" x2="1401.5" y2="1840" stroke="#000" stroke-width="2.7"/>
<text transform="translate(1401.2,1869.7) scale(1,1.04)" class="t30" text-anchor="middle" letter-spacing="-0.6">0</text>
<line x1="1315.3" y1="1830.3" x2="1315.3" y2="1835.3" stroke="#000" stroke-width="2.7"/>
<line x1="1487.7" y1="1830.3" x2="1487.7" y2="1835.3" stroke="#000" stroke-width="2.7"/>
<text x="1060.3" y="1194.3" class="t43">b</text>
<text transform="translate(1068.5,1666.8) rotate(-90)" class="t30y" textLength="324.5">5th harmonic yield (rel.u.)</text>
<text x="1515.5" y="1919" class="t30">Time delay (fs)</text>
<rect x="1147.2" y="1704.2" width="246.4" height="124.6" fill="#fff" stroke="#222" stroke-width="1"/>
<line x1="1151.5" y1="1728" x2="1218.2" y2="1728" stroke="#515151" stroke-width="3.2" stroke-linecap="round"/>
<text transform="translate(1224.6,1739.2) scale(1,1.04)" class="t28" letter-spacing="-0.55">205 GW/cm</text>
<text x="1378.0" y="1727.7" class="t18">2</text>
<line x1="1151.5" y1="1768.2" x2="1218.2" y2="1768.2" stroke="#F14040" stroke-width="3.2" stroke-linecap="round"/>
<text transform="translate(1224.6,1779.4) scale(1,1.04)" class="t28" letter-spacing="-0.55">103 GW/cm</text>
<text x="1378.0" y="1767.9" class="t18">2</text>
<line x1="1151.5" y1="1808.3" x2="1218.2" y2="1808.3" stroke="#1A6FDF" stroke-width="3.2" stroke-linecap="round"/>
<text transform="translate(1224.6,1819.5) scale(1,1.04)" class="t28" letter-spacing="-0.55">32 GW/cm</text>
<text x="1362.3" y="1808" class="t18">2</text>
</g>
</svg>
</body>
</html>
